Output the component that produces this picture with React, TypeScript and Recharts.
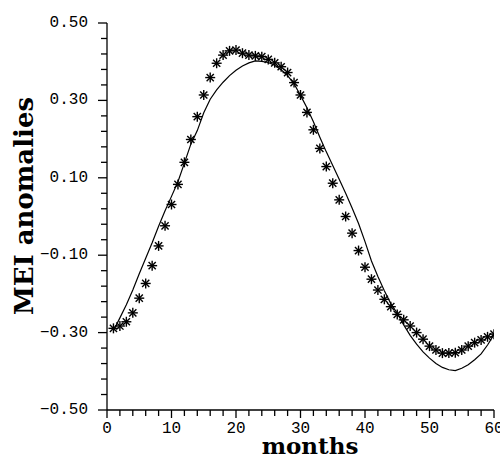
import { ComposedChart, Line, Scatter, XAxis, YAxis, Label } from "recharts";

const months = [
  1, 2, 3, 4, 5, 6, 7, 8, 9, 10, 11, 12, 13, 14, 15, 16, 17, 18, 19, 20,
  21, 22, 23, 24, 25, 26, 27, 28, 29, 30, 31, 32, 33, 34, 35, 36, 37, 38, 39, 40,
  41, 42, 43, 44, 45, 46, 47, 48, 49, 50, 51, 52, 53, 54, 55, 56, 57, 58, 59, 60,
];

// observed MEI (asterisks)
const observed = [
  -0.289, -0.283, -0.272, -0.249, -0.211, -0.173, -0.127, -0.076, -0.024, 0.031,
  0.083, 0.14, 0.199, 0.258, 0.314, 0.359, 0.396, 0.417, 0.428, 0.43,
  0.422, 0.417, 0.415, 0.413, 0.406, 0.397, 0.387, 0.372, 0.346, 0.314,
  0.269, 0.224, 0.176, 0.129, 0.086, 0.043, 0.0, -0.043, -0.088, -0.131,
  -0.162, -0.19, -0.214, -0.233, -0.253, -0.267, -0.283, -0.3, -0.317, -0.335,
  -0.345, -0.353, -0.353, -0.352, -0.345, -0.335, -0.326, -0.319, -0.311, -0.304,
];

// fitted curve (solid line)
const fitted = [
  -0.295, -0.262, -0.228, -0.19, -0.148, -0.108, -0.068, -0.025, 0.015, 0.052,
  0.09, 0.138, 0.187, 0.222, 0.268, 0.303, 0.327, 0.347, 0.364, 0.378,
  0.389, 0.397, 0.402, 0.401, 0.398, 0.391, 0.379, 0.364, 0.343, 0.313,
  0.281, 0.245, 0.205, 0.167, 0.132, 0.096, 0.06, 0.022, -0.018, -0.065,
  -0.115, -0.155, -0.192, -0.225, -0.25, -0.28, -0.307, -0.33, -0.35, -0.366,
  -0.38, -0.39, -0.396, -0.398, -0.392, -0.383, -0.37, -0.355, -0.332, -0.305,
];

const xTicks = [
  0, 2, 4, 6, 8, 10, 12, 14, 16, 18, 20, 22, 24, 26, 28, 30,
  32, 34, 36, 38, 40, 42, 44, 46, 48, 50, 52, 54, 56, 58, 60,
];
const xLabels = [0, 10, 20, 30, 40, 50, 60];

const yTicks = [
  -0.5, -0.46, -0.42, -0.38, -0.34, -0.3, -0.26, -0.22, -0.18, -0.14, -0.1,
  -0.06, -0.02, 0.02, 0.06, 0.1, 0.14, 0.18, 0.22, 0.26, 0.3, 0.34, 0.38,
  0.42, 0.46, 0.5,
];
const yLabels = [-0.5, -0.3, -0.1, 0.1, 0.3, 0.5];

const data = months.map((m, i) => ({ month: m, obs: observed[i], fit: fitted[i] }));

const tickFont = { fontFamily: "Liberation Mono", fontSize: 16, fill: "#000" };

const isLabel = (list: number[], v: number) => list.some((t) => Math.abs(t - v) < 1e-6);

const fmtY = (v: number) => (v < 0 ? "\u2212" + Math.abs(v).toFixed(2) : v.toFixed(2));

function XTick(props: any) {
  const { x, y, payload } = props;
  const major = isLabel(xLabels, payload.value);
  return (
    <g>
      <line x1={x} y1={y} x2={x} y2={y + (major ? 8 : 6)} stroke="#000" strokeWidth={1.3} />
      {major && (
        <text x={x} y={y + 23} textAnchor="middle" {...tickFont}>
          {payload.value}
        </text>
      )}
    </g>
  );
}

function YTick(props: any) {
  const { x, y, payload } = props;
  const major = isLabel(yLabels, payload.value);
  return (
    <g>
      <line x1={x} y1={y} x2={x - (major ? 9 : 6)} y2={y} stroke="#000" strokeWidth={1.3} />
      {major && (
        <text x={x - 19} y={y} textAnchor="end" dominantBaseline="central" {...tickFont}>
          {fmtY(payload.value)}
        </text>
      )}
    </g>
  );
}

function Asterisk(props: any) {
  const { cx, cy } = props;
  const r = 5;
  const d = r * 0.72;
  return (
    <g stroke="#000" strokeWidth={1.4}>
      <line x1={cx} y1={cy - r} x2={cx} y2={cy + r} />
      <line x1={cx - r} y1={cy} x2={cx + r} y2={cy} />
      <line x1={cx - d} y1={cy - d} x2={cx + d} y2={cy + d} />
      <line x1={cx - d} y1={cy + d} x2={cx + d} y2={cy - d} />
    </g>
  );
}

const titleFont = { fontFamily: "DejaVu Serif", fontWeight: "bold" as const, fill: "#000" };

export default function App() {
  return (
    <div style={{ position: "absolute", left: 0, top: 0, background: "#fff" }}>
      <ComposedChart
        width={500}
        height={458}
        data={data}
        margin={{ top: 23, right: 6, bottom: 0, left: 0 }}
      >
        <XAxis
          dataKey="month"
          type="number"
          domain={[0, 60]}
          ticks={xTicks}
          interval={0}
          height={48}
          tickSize={0}
          tickMargin={0}
          tickLine={false}
          tick={<XTick />}
          axisLine={{ stroke: "#000", strokeWidth: 1.3 }}
          allowDataOverflow
        >
          <Label
            content={() => (
              <text x={310} y={454} textAnchor="middle" fontSize={23} {...titleFont}>
                months
              </text>
            )}
          />
        </XAxis>
        <YAxis
          type="number"
          domain={[-0.5, 0.5]}
          ticks={yTicks}
          interval={0}
          width={107}
          tickSize={0}
          tickMargin={0}
          tickLine={false}
          tick={<YTick />}
          axisLine={{ stroke: "#000", strokeWidth: 1.3 }}
          allowDataOverflow
        >
          <Label
            content={() => (
              <text
                x={33}
                y={206}
                transform="rotate(-90 33 206)"
                textAnchor="middle"
                fontSize={26}
                {...titleFont}
              >
                MEI  anomalies
              </text>
            )}
          />
        </YAxis>
        <Line
          dataKey="fit"
          type="linear"
          stroke="#000"
          strokeWidth={1.2}
          dot={false}
          activeDot={false}
          isAnimationActive={false}
        />
        <Scatter dataKey="obs" shape={<Asterisk />} isAnimationActive={false} />
      </ComposedChart>
    </div>
  );
}
